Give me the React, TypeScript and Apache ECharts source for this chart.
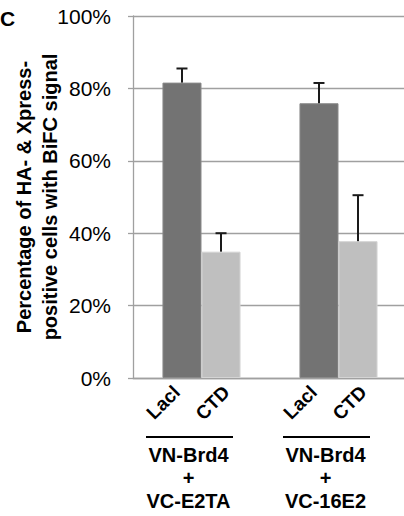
import React, { useEffect, useRef } from "react";
import * as echarts from "echarts";

const groups = ["VN-Brd4\n+\nVC-E2TA", "VN-Brd4\n+\nVC-16E2"];
const seriesNames = ["Lacl", "CTD"];
const laclMean = [81.6, 75.9];
const laclErr = [3.9, 5.6];
const ctdMean = [34.9, 37.8];
const ctdErr = [5.1, 12.7];
const yTicks = [0, 20, 40, 60, 80, 100];

// bar-name tick labels: each group split into SUB slots, names placed in slots 3 and 7
const SUB = 11;
const nameSlots = [3, 7];
const subLabels: string[] = [];
for (let g = 0; g < groups.length; g++) {
  for (let k = 0; k < SUB; k++) {
    const j = nameSlots.indexOf(k);
    subLabels.push(j >= 0 ? seriesNames[j] : "");
  }
}

const FONT = "'Liberation Sans', Arial, sans-serif";
const BAR_FRAC = 0.285;

export default function App() {
  const ref = useRef<HTMLDivElement>(null);
  useEffect(() => {
    if (!ref.current) return;
    const chart = echarts.init(ref.current, undefined, { renderer: "svg" });

    const errRender = (side: number) => (params: any, api: any) => {
      const idx = api.value(0);
      const mean = api.value(1);
      const err = api.value(2);
      const w = api.size([1, 0])[0];
      const off = (side * w * BAR_FRAC) / 2;
      const base = api.coord([idx, mean]);
      const top = api.coord([idx, mean + err]);
      const x = base[0] + off;
      const style = { stroke: "#1a1a1a", lineWidth: 2 };
      return {
        type: "group",
        children: [
          { type: "line", shape: { x1: x, y1: base[1], x2: x, y2: top[1] }, style },
          { type: "line", shape: { x1: x - 5.5, y1: top[1], x2: x + 5.5, y2: top[1] }, style },
        ],
      };
    };

    const lineRender = (params: any, api: any) => {
      const idx = api.value(0);
      const p = api.coord([idx, 0]);
      const y = p[1] + 59;
      return {
        type: "line",
        shape: { x1: p[0] - 55.5, y1: y, x2: p[0] + 31.5, y2: y },
        style: { stroke: "#000", lineWidth: 2.2 },
      };
    };

    chart.setOption({
      animation: false,
      graphic: [
        {
          type: "text",
          left: 0,
          top: 8,
          style: {
            text: "C",
            fontFamily: FONT,
            fontWeight: "bold",
            fontSize: 21,
            fill: "#000",
          },
        },
      ],
      grid: {
        left: 133,
        top: 16,
        width: 274,
        height: 362,
        containLabel: false,
        outerBoundsMode: "none",
      },
      xAxis: [
        {
          type: "category",
          data: groups,
          axisLine: { show: true, lineStyle: { color: "#a0a0a0", width: 1.3 } },
          axisTick: { show: false },
          axisLabel: {
            margin: 65,
            interval: 0,
            fontFamily: FONT,
            fontWeight: "bold",
            fontSize: 20,
            lineHeight: 23,
            color: "#000",
            padding: [0, 26, 0, 0],
          },
        },
        {
          type: "category",
          data: subLabels,
          position: "bottom",
          axisLine: { show: false },
          axisTick: { show: false },
          splitLine: { show: false },
          axisLabel: {
            interval: 0,
            rotate: 45,
            margin: 11,
            hideOverlap: false,
            fontFamily: FONT,
            fontWeight: "bold",
            fontSize: 19,
            color: "#000",
          },
        },
      ],
      yAxis: {
        type: "value",
        min: yTicks[0],
        max: yTicks[yTicks.length - 1],
        interval: 20,
        name: "Percentage of HA- & Xpress-\npositive cells with BiFC signal",
        nameLocation: "middle",
        nameRotate: 90,
        nameGap: 70,
        nameMoveOverlap: false,
        nameTextStyle: {
          fontFamily: FONT,
          fontWeight: "bold",
          fontSize: 20,
          lineHeight: 26,
          color: "#000",
        },
        axisLine: { show: true, lineStyle: { color: "#a0a0a0", width: 1.3 } },
        axisTick: { show: true, length: 5, lineStyle: { color: "#a0a0a0", width: 1.3 } },
        splitLine: { show: true, lineStyle: { color: "#a0a0a0", width: 1.3 } },
        axisLabel: {
          margin: 22,
          formatter: "{value}%",
          fontFamily: FONT,
          fontSize: 21,
          color: "#000",
        },
      },
      series: [
        {
          name: seriesNames[0],
          type: "bar",
          data: laclMean,
          barWidth: BAR_FRAC * 100 + "%",
          barGap: "0%",
          itemStyle: { color: "#737373", borderColor: "#8a8a8a", borderWidth: 1 },
        },
        {
          name: seriesNames[1],
          type: "bar",
          data: ctdMean,
          barWidth: BAR_FRAC * 100 + "%",
          barGap: "0%",
          itemStyle: { color: "#bfbfbf", borderColor: "#d4d4d4", borderWidth: 1 },
        },
        {
          type: "custom",
          renderItem: errRender(-1),
          data: laclMean.map((m, i) => [i, m, laclErr[i]]),
          encode: { x: 0, y: 1 },
          clip: false,
          z: 5,
        },
        {
          type: "custom",
          renderItem: errRender(1),
          data: ctdMean.map((m, i) => [i, m, ctdErr[i]]),
          encode: { x: 0, y: 1 },
          clip: false,
          z: 5,
        },
        {
          type: "custom",
          renderItem: lineRender,
          data: groups.map((_, i) => [i, 0]),
          encode: { x: 0, y: 1 },
          clip: false,
          silent: true,
        },
      ],
    });
    return () => chart.dispose();
  }, []);
  return (
    <div
      ref={ref}
      style={{ position: "fixed", left: 0, top: 0, width: 404, height: 516, background: "#fff" }}
    />
  );
}
